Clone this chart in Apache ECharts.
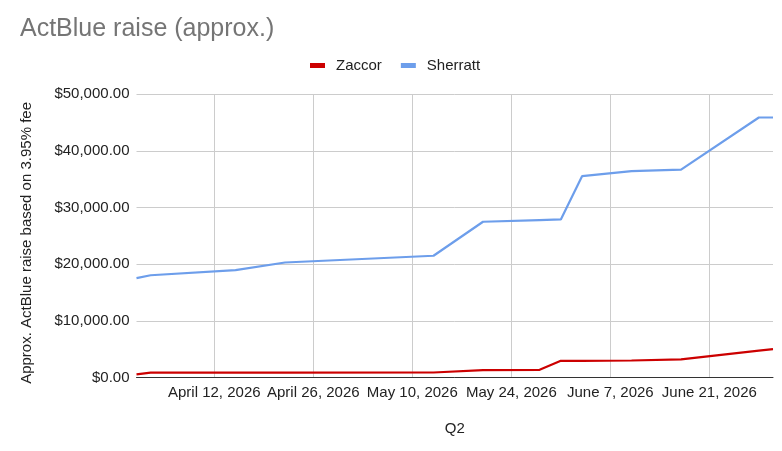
<!DOCTYPE html>
<html><head><meta charset="utf-8">
<script src="https://cdn.jsdelivr.net/npm/echarts@6/dist/echarts.min.js"></script>
<style>html,body{margin:0;padding:0;background:#fff}#c{width:782px;height:451px}</style>
</head><body><div id="c"></div>
<script>
const dates = ['2026-04-01','2026-04-03','2026-04-15','2026-04-22','2026-05-13','2026-05-20','2026-05-28','2026-05-31','2026-06-03','2026-06-10','2026-06-17','2026-06-28','2026-06-30'];
const zaccor = [560, 850, 850, 850, 880, 1300, 1350, 2950, 2950, 3000, 3200, 4750, 5000];
const sherratt = [17550, 18050, 18950, 20300, 21500, 27500, 27800, 27900, 35550, 36450, 36700, 45900, 45900];
const xTicks = ['2026-04-12','2026-04-26','2026-05-10','2026-05-24','2026-06-07','2026-06-21'];
const yTicks = [0, 10000, 20000, 30000, 40000, 50000];
const months = ['January','February','March','April','May','June','July','August','September','October','November','December'];
const ts = s => { const p = s.split('-').map(Number); return Date.UTC(p[0], p[1]-1, p[2]); };
const font = 'Liberation Sans, Arial, sans-serif';
const chart = echarts.init(document.getElementById('c'));
chart.setOption({
  animation: false,
  title: { text: 'ActBlue raise (approx.)', left: 15, top: 12, textStyle: { fontFamily: font, fontSize: 25, fontWeight: 'normal', color: '#757575' } },
  legend: { top: 53, left: 305, itemWidth: 15, itemHeight: 5, itemGap: 19, icon: 'rect',
    textStyle: { fontFamily: font, fontSize: 15, color: '#222', padding: [0, 0, 0, 6] }, data: ['Zaccor', 'Sherratt'] },
  grid: { left: 136.5, right: 9, top: 94.3, bottom: 73.5, containLabel: false },
  xAxis: {
    type: 'value', min: ts(dates[0]), max: ts(dates[dates.length-1]),
    name: 'Q2', nameLocation: 'middle', nameGap: 44,
    nameTextStyle: { fontFamily: font, fontSize: 15, color: '#222' },
    axisLine: { show: true, lineStyle: { color: '#333', width: 1 } },
    axisTick: { show: false, customValues: xTicks.map(ts) },
    axisLabel: { customValues: xTicks.map(ts), margin: 8, fontFamily: font, fontSize: 15, color: '#222',
      formatter: v => { const d = new Date(v); return months[d.getUTCMonth()] + ' ' + d.getUTCDate() + ', ' + d.getUTCFullYear(); } },
    splitLine: { show: true, lineStyle: { color: '#cccccc', width: 1 } }
  },
  yAxis: {
    type: 'value', min: yTicks[0], max: yTicks[yTicks.length-1], interval: 10000,
    name: 'Approx. ActBlue raise based on 3.95% fee', nameLocation: 'middle', nameGap: 102,
    nameTextStyle: { fontFamily: font, fontSize: 15, color: '#222', padding: [0, 14, 0, 0] },
    axisLine: { show: false }, axisTick: { show: false },
    axisLabel: { margin: 7, fontFamily: font, fontSize: 15, color: '#222',
      formatter: v => '$' + v.toLocaleString('en-US', { minimumFractionDigits: 2, maximumFractionDigits: 2 }) },
    splitLine: { show: true, lineStyle: { color: '#cccccc', width: 1 } }
  },
  series: [
    { name: 'Zaccor', type: 'line', showSymbol: false, symbol: 'none', color: '#cc0000', lineStyle: { width: 2.2 },
      data: dates.map((d, i) => [ts(d), zaccor[i]]), z: 3 },
    { name: 'Sherratt', type: 'line', showSymbol: false, symbol: 'none', color: '#6d9eeb', lineStyle: { width: 2.2 },
      data: dates.map((d, i) => [ts(d), sherratt[i]]), z: 2 }
  ]
});
</script></body></html>
